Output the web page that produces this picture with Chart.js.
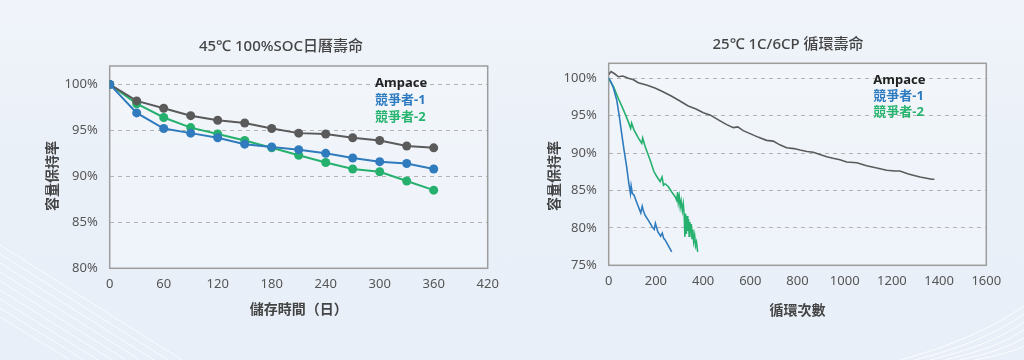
<!DOCTYPE html>
<html><head><meta charset="utf-8">
<script src="https://cdn.jsdelivr.net/npm/chart.js@4.4.1/dist/chart.umd.min.js"></script>
<style>
html,body{margin:0;padding:0;width:1024px;height:360px;overflow:hidden;}
body{background:linear-gradient(180deg,#f0f4fa 0%,#eaf0f8 45%,#e8eff8 100%);position:relative;font-family:"Noto Sans","Noto Sans CJK TC",sans-serif;}
#deco{position:absolute;left:0;top:0;}
canvas{position:absolute;top:0;}
#c1{left:0;}
#c2{left:520px;}
</style></head><body>
<svg id="deco" width="1024" height="360" xmlns="http://www.w3.org/2000/svg">
  <g stroke="#ffffff" stroke-width="1" fill="none" opacity="0.75">
    <line x1="0" y1="245" x2="182" y2="360"/>
    <line x1="0" y1="254" x2="168" y2="360"/>
    <line x1="0" y1="263" x2="154" y2="360"/>
    <line x1="0" y1="272" x2="140" y2="360"/>
    <line x1="0" y1="281" x2="126" y2="360"/>
    <line x1="0" y1="290" x2="112" y2="360"/>
    <line x1="0" y1="299" x2="98" y2="360"/>
    <line x1="0" y1="308" x2="84" y2="360"/>
    <line x1="0" y1="317" x2="70" y2="360"/>
  </g>
  <g stroke="#ffffff" stroke-width="1" fill="none" opacity="0.8">
    <path d="M900 360 Q975 340 1024 306"/>
    <path d="M915 360 Q985 342 1024 314"/>
    <path d="M930 360 Q992 345 1024 322"/>
    <path d="M945 360 Q998 348 1024 330"/>
    <path d="M960 360 Q1003 351 1024 338"/>
    <path d="M975 360 Q1008 354 1024 346"/>
  </g>
</svg>
<canvas id="c1" width="520" height="360"></canvas>
<canvas id="c2" width="504" height="360"></canvas>
<script>
// ---------- data ----------
const seriesNames = ['Ampace', '競爭者-1', '競爭者-2'];

// Chart 1: 45℃ 100%SOC calendar life
const calTitle = '45℃ 100%SOC日曆壽命';
const calXTitle = '儲存時間（日）';
const calDays = [0, 30, 60, 90, 120, 150, 180, 210, 240, 270, 300, 330, 360];
const calAmpace = [100, 98.2, 97.4, 96.6, 96.1, 95.8, 95.2, 94.7, 94.6, 94.2, 93.9, 93.3, 93.1];
const calComp1  = [100, 96.9, 95.2, 94.7, 94.2, 93.5, 93.2, 92.9, 92.5, 92.0, 91.6, 91.4, 90.8];
const calComp2  = [100, 97.9, 96.4, 95.3, 94.6, 93.9, 93.1, 92.3, 91.5, 90.8, 90.5, 89.5, 88.5];

// Chart 2: 25℃ 1C/6CP cycle life
const cycTitle = '25℃ 1C/6CP 循環壽命';
const cycXTitle = '循環次數';
const yTitle = '容量保持率';
const cycAmpaceX = [0, 10, 25, 41, 60, 83, 105, 125, 160, 196, 230, 267, 300, 337, 370, 401, 429, 472, 500, 528, 547, 570, 599, 635, 669, 697, 725, 754, 785, 811, 840, 867, 895, 924, 950, 980, 1008, 1051, 1093, 1136, 1178, 1213, 1234, 1270, 1319, 1369, 1380];
const cycAmpaceY = [100.5, 100.9, 100.6, 100.2, 100.3, 100.0, 99.8, 99.4, 99.1, 98.7, 98.2, 97.6, 97.0, 96.3, 95.9, 95.4, 95.1, 94.3, 93.8, 93.4, 93.5, 93.0, 92.6, 92.1, 91.7, 91.6, 91.1, 90.7, 90.6, 90.4, 90.2, 90.1, 89.8, 89.5, 89.3, 89.1, 88.8, 88.7, 88.3, 88.0, 87.7, 87.6, 87.6, 87.2, 86.8, 86.5, 86.5];
const cycComp1X = [0, 10, 20, 34, 45, 55, 65, 76, 85, 92, 95, 100, 107, 120, 136, 142, 146, 154, 170, 185, 193, 198, 208, 220, 227, 233, 239, 253, 267];
const cycComp1Y = [100, 99.5, 98.7, 97.1, 94.9, 92.6, 90.4, 88.2, 86.0, 84.6, 85.6, 84.6, 84.4, 83.3, 82.0, 82.9, 82.4, 81.7, 80.9, 80.1, 79.8, 80.6, 79.5, 78.9, 79.3, 78.6, 78.4, 77.6, 76.8];
const cycComp2X = [0, 10, 20, 41, 62, 83, 93, 97, 107, 126, 140, 144, 154, 175, 192, 203, 218, 226, 232, 239, 253, 267, 281, 288, 292, 295, 299, 303, 307, 312, 316, 320, 323, 326, 329, 332, 335, 338, 341, 344, 347, 350, 353, 356, 360, 364, 368, 372, 377];
const cycComp2Y = [100, 99.4, 98.9, 97.3, 95.8, 94.2, 93.3, 94.0, 93.1, 92.0, 91.3, 92.0, 90.9, 89.1, 87.5, 86.9, 86.2, 86.8, 85.7, 85.9, 85.5, 84.8, 84.2, 83.7, 84.8, 83.4, 84.2, 82.8, 83.6, 82.3, 83.2, 81.7, 78.8, 81.9, 79.2, 81.6, 79.6, 81.2, 78.9, 80.8, 79.3, 80.5, 78.6, 79.8, 78.2, 79.0, 77.6, 78.1, 76.8];

// ---------- styles ----------
const lineColors = ['#5a5a5a', '#2f7bbd', '#26b06e'];
const legendColors = ['#222222', '#2f7bc0', '#27b46f'];
const FONT = '"Noto Sans", "Noto Sans CJK TC", sans-serif';
Chart.defaults.font.family = FONT;
Chart.defaults.color = '#555';

const decor = {
  id: 'decor',
  beforeDraw(chart, args, o) {
    const a = chart.chartArea, ctx = chart.ctx;
    ctx.save();
    ctx.fillStyle = 'rgba(255,255,255,0.28)';
    ctx.fillRect(a.left, a.top, a.right - a.left, a.bottom - a.top);
    ctx.restore();
  },
  beforeDatasetsDraw(chart, args, o) {
    const a = chart.chartArea, ctx = chart.ctx;
    ctx.save();
    ctx.strokeStyle = '#9d9d9d';
    ctx.lineWidth = 1.5;
    ctx.strokeRect(a.left, a.top, a.right - a.left, a.bottom - a.top);
    ctx.restore();
  },
  afterDraw(chart, args, o) {
    const a = chart.chartArea, ctx = chart.ctx;
    ctx.save();
    // title
    ctx.fillStyle = '#444';
    ctx.font = '500 15px ' + FONT;
    ctx.textAlign = 'center';
    ctx.textBaseline = 'middle';
    ctx.fillText(o.title, o.titleX, o.titleY);
    // y-axis title
    ctx.save();
    ctx.translate(o.yTitleX, o.yTitleY);
    ctx.rotate(-Math.PI / 2);
    ctx.font = 'bold 14px ' + FONT;
    ctx.fillStyle = '#444';
    ctx.fillText(yTitle, 0, 0);
    ctx.restore();
    // legend
    ctx.font = 'bold 13px ' + FONT;
    ctx.textAlign = 'left';
    seriesNames.forEach((n, i) => {
      ctx.fillStyle = legendColors[i];
      ctx.fillText(n, a.right - o.legDx, a.top + o.legDy + i * o.legStep);
    });
    ctx.restore();
  }
};

function makeOptions(p) {
  return {
    responsive: false,
    animation: false,
    layout: { padding: { top: p.top, right: p.right, bottom: 0, left: 0 } },
    plugins: { legend: { display: false }, tooltip: { enabled: false }, decor: p },
    scales: {
      x: {
        type: 'linear', min: 0, max: p.xMax,
        grid: { display: false, drawTicks: false },
        border: { display: false },
        ticks: { stepSize: p.xStep, padding: 8, color: '#555', font: { size: 13 }, maxRotation: 0, autoSkip: false, callback: v => String(v) },
        title: { display: true, text: p.xTitle, color: '#444', font: { size: 14, weight: 'bold' }, padding: { top: 0, bottom: p.xTitlePad } },
        afterFit: s => { s.height = p.xH; }
      },
      y: {
        type: 'linear', min: p.yMin, max: 102,
        grid: { color: '#b3b3b3', lineWidth: 1, drawTicks: false },
        border: { display: false, dash: [4, 4] },
        ticks: { stepSize: 5, padding: 12, color: '#555', font: { size: 13 }, callback: v => v + '%' },
        afterBuildTicks: s => { s.ticks = s.ticks.filter(t => t.value <= 100); },
        afterFit: s => { s.width = p.yW; }
      }
    }
  };
}

function pts(xs, ys) { return xs.map((x, i) => ({ x: x, y: ys[i] })); }

// Chart 1
new Chart(document.getElementById('c1'), {
  type: 'line',
  data: {
    datasets: [calAmpace, calComp1, calComp2].map((ys, i) => ({
      label: seriesNames[i],
      data: pts(calDays, ys),
      borderColor: lineColors[i],
      backgroundColor: lineColors[i],
      pointBackgroundColor: lineColors[i],
      pointBorderWidth: 0,
      pointRadius: 4.5,
      borderWidth: 2,
      tension: 0,
      order: [1, 0, 2][i]
    }))
  },
  options: makeOptions({
    top: 66, right: 32.3, xH: 91.7, yW: 109.7, yMin: 80, xMax: 420, xStep: 60,
    xTitle: calXTitle, xTitlePad: 41.6,
    title: calTitle, titleX: 281, titleY: 47,
    yTitleX: 53, yTitleY: 176,
    legDx: 112.7, legDy: 17, legStep: 17.3
  }),
  plugins: [decor]
});

// Chart 2
new Chart(document.getElementById('c2'), {
  type: 'line',
  data: {
    datasets: [[cycAmpaceX, cycAmpaceY], [cycComp1X, cycComp1Y], [cycComp2X, cycComp2Y]].map((s, i) => ({
      label: seriesNames[i],
      data: pts(s[0], s[1]),
      borderColor: lineColors[i],
      backgroundColor: lineColors[i],
      pointRadius: 0,
      borderWidth: 1.6,
      tension: 0
    }))
  },
  options: makeOptions({
    top: 63.3, right: 37.7, xH: 94.7, yW: 88.7, yMin: 75, xMax: 1600, xStep: 200,
    xTitle: cycXTitle, xTitlePad: 41,
    title: cycTitle, titleX: 268, titleY: 45,
    yTitleX: 35, yTitleY: 176,
    legDx: 113, legDy: 16.7, legStep: 16
  }),
  plugins: [decor]
});
</script>
</body></html>
